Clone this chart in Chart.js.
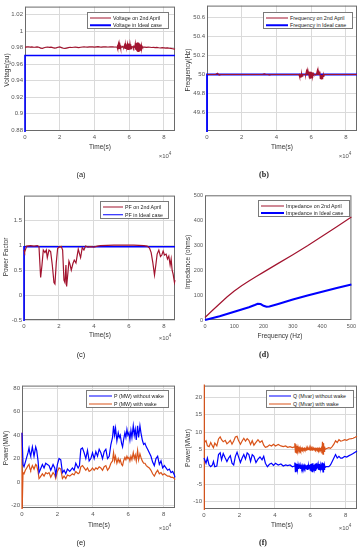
<!DOCTYPE html>
<html>
<head>
<meta charset="utf-8">
<script src="https://cdn.jsdelivr.net/npm/chart.js@4.4.1/dist/chart.umd.min.js"></script>
<style>
  body { margin: 0; background: #fff; width: 363px; height: 550px; position: relative; overflow: hidden;
         font-family: "Liberation Sans", Arial, sans-serif; }
  canvas { position: absolute; }
  .t { position: absolute; font-size: 6.5px; color: #333; white-space: nowrap; transform: translate(-50%, -50%); }
  .yl { transform: translate(-50%, -50%) rotate(-90deg); }
  .x10 { font-size: 6px; color: #555; }
  .x10 sup { font-size: 4.5px; }
  .cap { font-size: 7.5px; color: #222; }
  .capb { font-family: "Liberation Serif", serif; font-weight: bold; font-size: 8px; }
  .lg { position: absolute; background: #fff; border: 1px solid #7a7a7a; box-sizing: border-box; }
  .lg span { position: absolute; font-size: 5.3px; color: #222; white-space: nowrap; transform: translateY(-50%); }
  .lg i { position: absolute; display: block; transform: translateY(-50%); }
</style>
</head>
<body>
<script>
// ---- time grid shared by (a) and (b), in thousands of seconds ----
const dayT = [
  0, 1, 2, 3, 4, 5, 6, 7, 8, 9, 10, 11, 12, 13, 14, 15, 16, 17, 18, 19, 20, 21, 22, 23, 24, 25, 26,
  27, 28, 29, 30, 31, 32, 33, 34, 35, 36, 37, 38, 39, 40, 41, 42, 43, 44, 45, 46, 47, 48, 49, 50, 51, 52, 53,
  53.25, 53.5, 53.75, 54,
  54.25, 54.5, 54.75, 55,
  55.25, 55.5, 55.75, 56,
  56.25, 56.5, 56.75, 57,
  57.25, 57.5, 57.75, 58,
  58.25, 58.5, 58.75, 59,
  59.25, 59.5, 59.75, 60,
  60.25, 60.5, 60.75, 61,
  61.25, 61.5, 61.75, 62,
  62.25, 62.5, 62.75, 63,
  63.25, 63.5, 63.75, 64,
  64.25, 64.5, 64.75, 65,
  65.25, 65.5, 65.75, 66,
  66.25, 66.5, 66.75, 67,
  67.25, 67.5, 67.75, 68,
  69, 70, 71, 72, 73, 74, 75, 76, 77, 78, 79, 80, 81, 82, 83, 84, 85, 86, 86.4
];

const voltApril = [
  0.9805, 0.9810, 0.9812, 0.9808, 0.9810, 0.9806, 0.9808, 0.9811, 0.9806, 0.9796, 0.9791, 0.9800, 0.9806,
  0.9809, 0.9804, 0.9807, 0.9801, 0.9796, 0.9798, 0.9806, 0.9810, 0.9802, 0.9794, 0.9791, 0.9796, 0.9801,
  0.9806, 0.9803, 0.9806, 0.9809, 0.9805, 0.9801, 0.9806, 0.9809, 0.9811, 0.9809, 0.9807, 0.9810, 0.9812,
  0.9810, 0.9808, 0.9811, 0.9813, 0.9810, 0.9808, 0.9811, 0.9812, 0.9810, 0.9809, 0.9811, 0.9812, 0.9810,
  0.9809, 0.9811,
  0.9835, 0.9785, 0.9838, 0.9782,
  0.9836, 0.9786, 0.9830, 0.9792,
  0.9812, 0.9808, 0.9811, 0.9809,
  0.9812, 0.9808, 0.9814, 0.9806,
  0.9828, 0.9790, 0.9838, 0.9784,
  0.9830, 0.9810, 0.9809, 0.9846,
  0.9774, 0.9850, 0.9772, 0.9848,
  0.9776, 0.9842, 0.9780, 0.9836,
  0.9790, 0.9812, 0.9809, 0.9811,
  0.9808, 0.9826, 0.9792, 0.9812,
  0.9808, 0.9845, 0.9775, 0.9855,
  0.9765, 0.9862, 0.9758, 0.9866,
  0.9755, 0.9860, 0.9762, 0.9850,
  0.9770, 0.9840, 0.9780, 0.9830,
  0.9790, 0.9815, 0.9806, 0.9809,
  0.9807, 0.9805, 0.9808, 0.9806, 0.9803, 0.9805, 0.9801, 0.9804, 0.9800, 0.9797, 0.9801, 0.9799,
  0.9796, 0.9798, 0.9794, 0.9792, 0.9788, 0.9784, 0.9780
];
const voltIdealT = [0, 0, 86.4];
const voltIdeal = [0.85, 0.9706, 0.9706];

const freqApril = [
  50, 50, 50, 50, 50, 50, 50.012, 49.995, 50, 50, 50, 50, 50, 50, 50, 50, 50, 50, 50, 50, 50, 50, 50, 50,
  50, 50, 50, 50, 50, 50, 50, 50, 50, 50.006, 50, 50, 49.996, 50, 50, 50, 50, 50, 50, 50, 50, 50, 50, 50,
  50, 50, 50, 50, 50, 50,
  49.975, 50.008, 49.972, 50.006,
  49.978, 50.004, 49.982, 50.002,
  50, 50, 50, 50,
  50, 50, 50.002, 49.998,
  50.03, 49.998, 50.036, 50,
  50.032, 50, 50, 49.965,
  50.028, 49.962, 50.03, 49.968,
  50.025, 49.972, 50.02, 49.98,
  50.01, 50, 50, 50,
  50, 50.002, 49.998, 50,
  50, 50.038, 49.998, 50.042,
  49.996, 50.035, 50, 50.03,
  49.96, 49.998, 49.955, 49.996,
  49.958, 49.995, 49.962, 50,
  49.975, 50, 50, 50,
  50, 50, 50, 50, 50, 50, 50, 50, 50, 50, 50, 50, 50, 50, 50, 50, 50, 50, 50
];
const freqIdealT = [0, 0, 86.4];
const freqIdeal = [49, 50, 50];

// ---- (c) power factor ----
const pfT = [
  0, 0.38, 0.95, 1.52, 3.81, 5.71, 7.62, 8.57, 9.52, 10.29, 11.05, 12.0, 12.76, 13.33, 14.29, 15.24, 16.19,
  17.14, 17.71, 18.48, 19.24, 20.0, 21.34, 22.1, 22.86, 23.43, 24.0, 24.38, 25.14, 25.71, 26.29, 27.05,
  28.0, 28.76, 29.72, 30.48, 31.05, 31.81, 32.38, 33.33, 34.29, 35.24, 36.57, 38.1, 40.0, 41.9, 43.81,
  51.43, 62.86, 68.57, 70.48, 71.81, 72.76, 73.71, 74.67, 75.43, 76.19, 77.14, 78.1, 78.86, 79.62, 80.38,
  81.33, 82.1, 82.86, 83.62, 84.19, 84.76, 85.33, 86.1, 86.4
];
const pfApril = [
  0.9, 0.86, 0.92, 0.98, 0.99, 0.98, 0.99, 0.97, 0.35, 0.6, 0.9, 0.85, 0.9, 0.75, 0.9, 0.87, 0.6,
  0.25, 0.22, 0.65, 0.93, 0.96, 0.97, 0.9, 0.3, 0.25, 0.6, 0.17, 0.45, 0.68, 0.62, 0.5,
  0.63, 0.7, 0.64, 0.8, 0.92, 0.82, 0.75, 0.95, 0.9, 0.98, 0.96, 0.97, 0.96, 0.98, 0.99,
  1.0, 1.0, 0.99, 0.98, 0.94, 0.85, 0.65, 0.4, 0.6, 0.82, 0.9, 0.77, 0.8, 0.88, 0.8,
  0.82, 0.72, 0.78, 0.6, 0.72, 0.5, 0.42, 0.25, 0.3
];
const pfIdealT = [0, 0, 86.4];
const pfIdeal = [-1, 0.965, 0.965];

// ---- (d) impedance vs frequency ----
const zFreqApril = [0, 25, 50, 75, 100, 125, 150, 175, 200, 250, 300, 350, 400, 450, 500];
const zApril = [10, 38, 65, 92, 116, 137, 156, 174, 192, 227, 262, 298, 336, 374, 413];
const zFreqIdeal = [0, 50, 100, 150, 170, 180, 190, 200, 210, 220, 250, 300, 350, 400, 450, 500];
const zIdeal = [0, 15, 33, 51, 60, 65, 64, 57, 53, 54, 64, 82, 98, 113, 128, 142];

// ---- (e) active power ----
const pT = [
  0, 0, 0.57, 1.13, 1.89, 2.64, 3.4, 3.96, 4.53, 4.91, 5.85, 6.79, 7.74, 8.3, 9.06, 9.62, 10.19, 11.51,
  12.45, 13.4, 14.34, 15.28, 16.23, 17.55, 18.49, 19.06, 20.0, 20.94, 21.89, 22.83, 23.77, 24.72, 25.66,
  26.98, 28.49, 29.43, 30.38, 31.7, 32.45, 33.21, 34.15, 35.09, 36.04, 36.98, 37.92, 38.87, 39.81, 40.75,
  41.7, 42.64, 43.58, 44.53, 45.47, 46.42, 47.36, 48.3, 49.25, 50.19, 51.13, 51.7, 52.26, 52.83, 53.58,
  54.34, 54.91, 55.47, 56.23, 56.79, 57.36, 58.11, 58.68, 59.25, 59.81, 60.38, 60.94, 61.51, 62.08, 62.83,
  63.4, 63.96, 64.53, 65.28, 65.85, 66.6, 67.17, 67.92, 68.68, 69.43, 70.19, 70.94, 71.89, 72.83, 73.77,
  74.72, 75.66, 76.6, 77.55, 78.49, 79.43, 80.38, 81.32, 82.26, 83.21, 84.15, 85.09, 86.04, 86.4
];
const pNoWake = [
  42, 42, 15, 13, 17, 21, 25, 29, 24, 22, 30, 22, 30, 27, 18, 8, 10, 15,
  12, 16, 15, 14, 10, 15, 12, 6, 15, 20, 19, 8, 10, 7, 11,
  9, 12, 10, 16, 12, 14, 28, 29, 25, 20, 27, 18, 20, 25, 20,
  26, 22, 28, 25, 20, 26, 28, 20, 22, 32, 38, 48, 40, 46, 35,
  42, 38, 40, 33, 30, 36, 42, 38, 45, 40, 42, 36, 44, 38, 48,
  40, 45, 36, 48, 38, 48, 42, 36, 32, 33, 30, 28, 25, 22, 17,
  14, 20, 22, 15, 18, 12, 14, 12, 10, 11, 8, 9, 6, 4
];
const pWake = [
  42, -30, 8, 7, 10, 12, 14, 15, 11, 10, 14, 11, 15, 14, 9, 3, 4, 7,
  5, 8, 7, 8, 4, 8, 6, 3, 9, 12, 11, 3, 5, 3, 6,
  5, 7, 6, 9, 7, 8, 13, 14, 12, 10, 12, 9, 10, 12, 10,
  12, 11, 13, 12, 10, 13, 14, 10, 12, 16, 18, 25, 18, 22, 16,
  20, 17, 19, 15, 14, 18, 21, 19, 22, 20, 21, 18, 22, 19, 25,
  20, 23, 18, 27, 19, 24, 21, 18, 16, 16, 14, 13, 12, 10, 7,
  5, 8, 10, 7, 8, 6, 7, 6, 5, 5, 4, 4, 3, 2
];

// ---- (f) reactive power ----
const qT = [
  0, 0, 0.38, 1.14, 1.91, 2.86, 3.81, 4.76, 5.33, 6.1, 7.24, 8.19, 9.14, 9.91, 10.86, 12.0, 12.95, 13.9,
  14.86, 15.81, 16.76, 17.72, 18.67, 19.43, 20.57, 21.53, 22.48, 23.43, 24.38, 25.34, 26.29, 27.24, 28.19,
  29.34, 30.48, 31.62, 32.77, 33.72, 34.67, 35.81, 36.96, 38.1, 39.24, 40.39, 41.91, 43.43, 44.77, 46.1,
  47.24, 48.58, 49.91, 51.05,
  51.3, 51.6, 51.9, 52.2, 52.5, 52.8, 53.1, 53.4, 53.7, 54.0, 54.3, 54.6, 54.9, 55.2, 55.5, 55.8, 56.1,
  56.4, 56.7, 57.0, 57.3, 57.6, 57.9, 58.2, 58.5, 58.8, 59.1, 59.4, 59.7, 60.0, 60.3, 60.6, 60.9, 61.2,
  61.5, 61.8, 62.1, 62.4, 62.7, 63.0, 63.3, 63.6, 63.9, 64.2, 64.5, 64.8, 65.1, 65.4, 65.7, 66.0, 66.3,
  66.6, 66.9, 67.2, 67.5, 67.8, 68.1, 68.4,
  68.96, 70.48, 71.43, 72.39, 73.34, 74.29, 75.24, 76.2, 77.15, 78.1, 79.44, 80.58, 81.91, 83.25, 84.2,
  85.34, 86.4
];
const qNoWake = [
  2.5, 2.5, 2.5, 1, 2.5, 0.5, 0, 0.5, 1.5, 0, 0.2, 3.5, 4, 2, 3.8, 2.5, 1.5, 2.5,
  3.2, 1, 0.5, 3, 4.2, 3, 1.2, 2.5, 3.5, 2.2, 4, 3.5, 1.5, 3.5, 3,
  1.2, 2.2, 2.8, 2, 3, 1, 0, 0.7, 1, 0.4, 1, 0.5, 0.8, 0.2, 0.5,
  0.3, 0.5, 0, 0.2,
  1.2, -1.4, 1.0, -1.2, 0.8, -0.8, 0.5, -0.6, 0.3, -0.5, 0.4, -0.6, 0.2, -0.4, 0.3, -0.5, 0.2,
  -0.4, 0.3, -0.3, 0.2, -0.5, 0.4, -0.8, 0.6, -0.6, 0.3, -0.4, 0.6, -1.0, 0.8, -1.2, 0.9, -1.4,
  1.0, -1.0, 0.5, -0.6, 0.8, -1.2, 1.0, -0.8, 0.4, -0.5, 0.6, -0.9, 0.8, -1.0, 0.5, -0.4, 0.3,
  -1.0, 1.2, -1.5, 1.0, -0.8, 0.4, -0.2,
  0, 0, 0.5, 1.5, 2.5, 3.5, 2.5, 3, 2.5, 2.5, 3, 2.8, 3.2, 3.5, 3.8,
  4.2, 4.5
];
const qWake = [
  -15, 25, 7, 7.5, 6, 5.8, 7, 6, 5.5, 6.8, 6, 8, 8.6, 7.8, 7.2, 7.6, 6.6, 7,
  7.6, 6.5, 7.4, 8.6, 8.8, 7.6, 6.5, 7.4, 8.2, 7.4, 8.1, 7.6, 6.4, 7.5, 6.2,
  7, 7.8, 7, 7.5, 6.2, 5.6, 5.8, 6.3, 6, 6.5, 6, 6.4, 6, 5.8, 6,
  5.6, 5.8, 5.5, 5.7,
  6.8, 4.2, 6.5, 4.0, 6.0, 4.5, 5.6, 4.8, 5.4, 4.9, 5.5, 4.8, 5.3, 5.0, 5.4, 4.9, 5.2,
  5.0, 5.3, 4.9, 5.2, 4.8, 5.3, 4.9, 5.4, 5.0, 5.2, 4.9, 5.3, 4.8, 5.4, 4.9, 5.2, 4.8,
  5.3, 5.0, 5.2, 4.9, 5.3, 4.9, 5.2, 5.0, 5.3, 4.9, 5.2, 4.8, 5.3, 4.9, 5.2, 5.0, 5.4,
  3.8, 7.2, 3.6, 6.8, 4.4, 5.8, 5.0,
  5.2, 5.5, 5.3, 5.8, 6.5, 7.5, 7, 7.8, 7.4, 7.5, 7.8, 7.6, 8, 8.1, 8.2,
  8.5, 8.8
];

// ---- tick labels ----
const timeTicks = [0, 20, 40, 60, 80];
const voltTicks = [0.88, 0.9, 0.92, 0.94, 0.96, 0.98, 1, 1.02];
const freqTicks = [49.6, 49.8, 50, 50.2, 50.4, 50.6];
const pfTicks = [-0.5, 0, 0.5, 1, 1.5];
const zTicks = [0, 100, 200, 300, 400, 500];
const pTicks = [-20, 0, 20, 40, 60, 80];
const qTicks = [-10, -5, 0, 5, 10, 15, 20];

const RED = "#a2142f";
const BLUE = "#0000ff";
const ORANGE = "#d95319";

const pts = (xs, ys) => xs.map((x, i) => ({ x: x, y: ys[i] }));
const plain = (v) => String(+v.toFixed(4));

const boxPlugin = {
  id: "box",
  beforeDatasetsDraw(chart) {
    const a = chart.chartArea, c = chart.ctx;
    c.save();
    c.strokeStyle = "#6a6a6a";
    c.lineWidth = 1;
    c.strokeRect(a.left + 0.5, a.top + 0.5, a.right - a.left - 1, a.bottom - a.top - 1);
    c.restore();
  },
};

function panel(p) {
  const [l, t, r, b] = p.box;
  const cv = document.createElement("canvas");
  const W = r - l + 30, H = b - t + 18;
  cv.width = W; cv.height = H;
  cv.style.left = (l - 25) + "px"; cv.style.top = (t - 4) + "px";
  cv.style.width = W + "px"; cv.style.height = H + "px";
  document.body.appendChild(cv);
  const tickFont = { family: "'Liberation Sans', Arial, sans-serif", size: p.fontSize || 6 };
  const grid = { display: p.grid !== false, color: "#dadada", lineWidth: 1, drawTicks: false };
  new Chart(cv, {
    type: "line",
    data: {
      datasets: p.sets.map((s) => ({
        data: s.data, borderColor: s.color, borderWidth: s.width, pointRadius: 0,
        tension: 0, fill: false, clip: 1,
      })),
    },
    options: {
      responsive: false, animation: false, events: [],
      layout: { padding: { top: 4, right: 5, left: 0, bottom: 0 } },
      plugins: { legend: { display: false }, tooltip: { enabled: false } },
      scales: {
        x: {
          type: "linear", min: p.x[0], max: p.x[1],
          afterBuildTicks: (s) => { s.ticks = p.xTicks.map((v) => ({ value: v })); },
          afterFit: (s) => { s.height = 14; },
          ticks: { font: tickFont, color: "#555", padding: 3, maxRotation: 0,
                   callback: p.xFmt || plain },
          grid: grid, border: { display: false },
        },
        y: {
          type: "linear", min: p.y[0], max: p.y[1],
          afterBuildTicks: (s) => { s.ticks = p.yTicks.map((v) => ({ value: v })); },
          afterFit: (s) => { s.width = 25; },
          ticks: { font: tickFont, color: "#555", padding: 2, callback: plain },
          grid: grid, border: { display: false },
        },
      },
    },
    plugins: [boxPlugin],
  });
}

function text(html, x, y, cls) {
  const d = document.createElement("div");
  d.className = "t " + (cls || "");
  d.style.left = x + "px"; d.style.top = y + "px";
  d.innerHTML = html;
  document.body.appendChild(d);
}

function legend(x, y, w, h, items) {
  const d = document.createElement("div");
  d.className = "lg";
  Object.assign(d.style, { left: x + "px", top: y + "px", width: w + "px", height: h + "px" });
  items.forEach((it, i) => {
    const cy = h * (i === 0 ? 0.27 : 0.71);
    const ln = document.createElement("i");
    Object.assign(ln.style, { left: "2px", top: cy + "px", width: it.sw + "px", height: it.lw + "px", background: it.color });
    const sp = document.createElement("span");
    sp.textContent = it.label;
    Object.assign(sp.style, { left: (it.sw + 4) + "px", top: cy + "px" });
    d.appendChild(ln); d.appendChild(sp);
  });
  document.body.appendChild(d);
}

const tFmt = (v) => String(v / 10);

// (a)
panel({
  box: [25, 5, 175, 131], x: [0, 86.4], y: [0.8788, 1.03], xTicks: timeTicks, yTicks: voltTicks, xFmt: tFmt,
  sets: [
    { data: pts(dayT, voltApril), color: RED, width: 1.2 },
    { data: pts(voltIdealT, voltIdeal), color: BLUE, width: 1.6 },
  ],
});
// (b)
panel({
  box: [207, 4, 357, 131], x: [0, 86.4], y: [49.41, 50.72], xTicks: timeTicks, yTicks: freqTicks, xFmt: tFmt,
  sets: [
    { data: pts(dayT, freqApril), color: RED, width: 1.2 },
    { data: pts(freqIdealT, freqIdeal), color: BLUE, width: 1.8 },
  ],
});
// (c)
panel({
  box: [24, 194, 175, 320], x: [0, 86.4], y: [-0.5, 1.99], xTicks: timeTicks, yTicks: pfTicks, xFmt: tFmt,
  sets: [
    { data: pts(pfT, pfApril), color: RED, width: 1.2 },
    { data: pts(pfIdealT, pfIdeal), color: BLUE, width: 1.6 },
  ],
});
// (d)
panel({
  box: [205, 194, 354, 320], x: [0, 500], y: [0, 500], xTicks: zTicks, yTicks: zTicks, grid: false, fontSize: 5.5,
  sets: [
    { data: pts(zFreqApril, zApril), color: RED, width: 1.2 },
    { data: pts(zFreqIdeal, zIdeal), color: BLUE, width: 2 },
  ],
});
// (e)
panel({
  box: [22, 384, 175, 508], x: [0, 86.4], y: [-22.2, 82.3], xTicks: timeTicks, yTicks: pTicks, xFmt: tFmt,
  sets: [
    { data: pts(pT, pNoWake), color: BLUE, width: 1.2 },
    { data: pts(pT, pWake), color: ORANGE, width: 1.2 },
  ],
});
// (f)
panel({
  box: [204, 384, 357, 509], x: [0, 86.4], y: [-12.2, 23.4], xTicks: timeTicks, yTicks: qTicks, xFmt: tFmt,
  sets: [
    { data: pts(qT, qNoWake), color: BLUE, width: 1.2 },
    { data: pts(qT, qWake), color: ORANGE, width: 1.2 },
  ],
});

// axis titles, exponents, captions
text("Voltage(pu)", 6, 70, "yl");
text("Time(s)", 100, 146);
text("×10<sup>4</sup>", 165, 155, "x10");
text("(a)", 81, 174, "cap");

text("Frequency(Hz)", 187, 70, "yl");
text("Time(s)", 282, 146);
text("×10<sup>4</sup>", 345, 155, "x10");
text("(b)", 264, 174, "cap capb");

text("Power Factor", 5, 257, "yl");
text("Time(s)", 100, 334);
text("×10<sup>4</sup>", 165, 337, "x10");
text("(c)", 81, 354, "cap");

text("Impedance (ohms)", 187, 262, "yl");
text("Frequency (Hz)", 280, 335);
text("(d)", 264, 354, "cap capb");

text("Power(MW)", 5, 448, "yl");
text("Time(s)", 99, 524);
text("×10<sup>4</sup>", 165, 527, "x10");
text("(e)", 81, 542, "cap");

text("Power(MVar)", 187, 448, "yl");
text("Time(s)", 282, 524);
text("×10<sup>4</sup>", 345, 527, "x10");
text("(f)", 263, 542, "cap capb");

// legends
legend(87, 12, 82, 17, [
  { label: "Voltage on 2nd April", color: RED, lw: 1, sw: 21 },
  { label: "Voltage in Ideal case", color: BLUE, lw: 1.5, sw: 21 },
]);
legend(263, 12, 90, 17, [
  { label: "Frequency on 2nd April", color: RED, lw: 1, sw: 22 },
  { label: "Frequency in Ideal case", color: BLUE, lw: 1.5, sw: 22 },
]);
legend(100, 201, 69, 18, [
  { label: "PF on 2nd April", color: RED, lw: 1, sw: 20 },
  { label: "PF in Ideal case", color: BLUE, lw: 1.5, sw: 20 },
]);
legend(258, 200, 92, 17, [
  { label: "Impedance on 2nd April", color: RED, lw: 1, sw: 23 },
  { label: "Impedance in Ideal case", color: BLUE, lw: 2, sw: 23 },
]);
legend(86, 390, 83, 18, [
  { label: "P (MW) without wake", color: BLUE, lw: 1, sw: 23 },
  { label: "P (MW) with wake", color: ORANGE, lw: 1, sw: 23 },
]);
legend(266, 390, 88, 18, [
  { label: "Q (Mvar) without wake", color: BLUE, lw: 1, sw: 22 },
  { label: "Q (Mvar) with wake", color: ORANGE, lw: 1, sw: 22 },
]);
</script>
</body>
</html>
